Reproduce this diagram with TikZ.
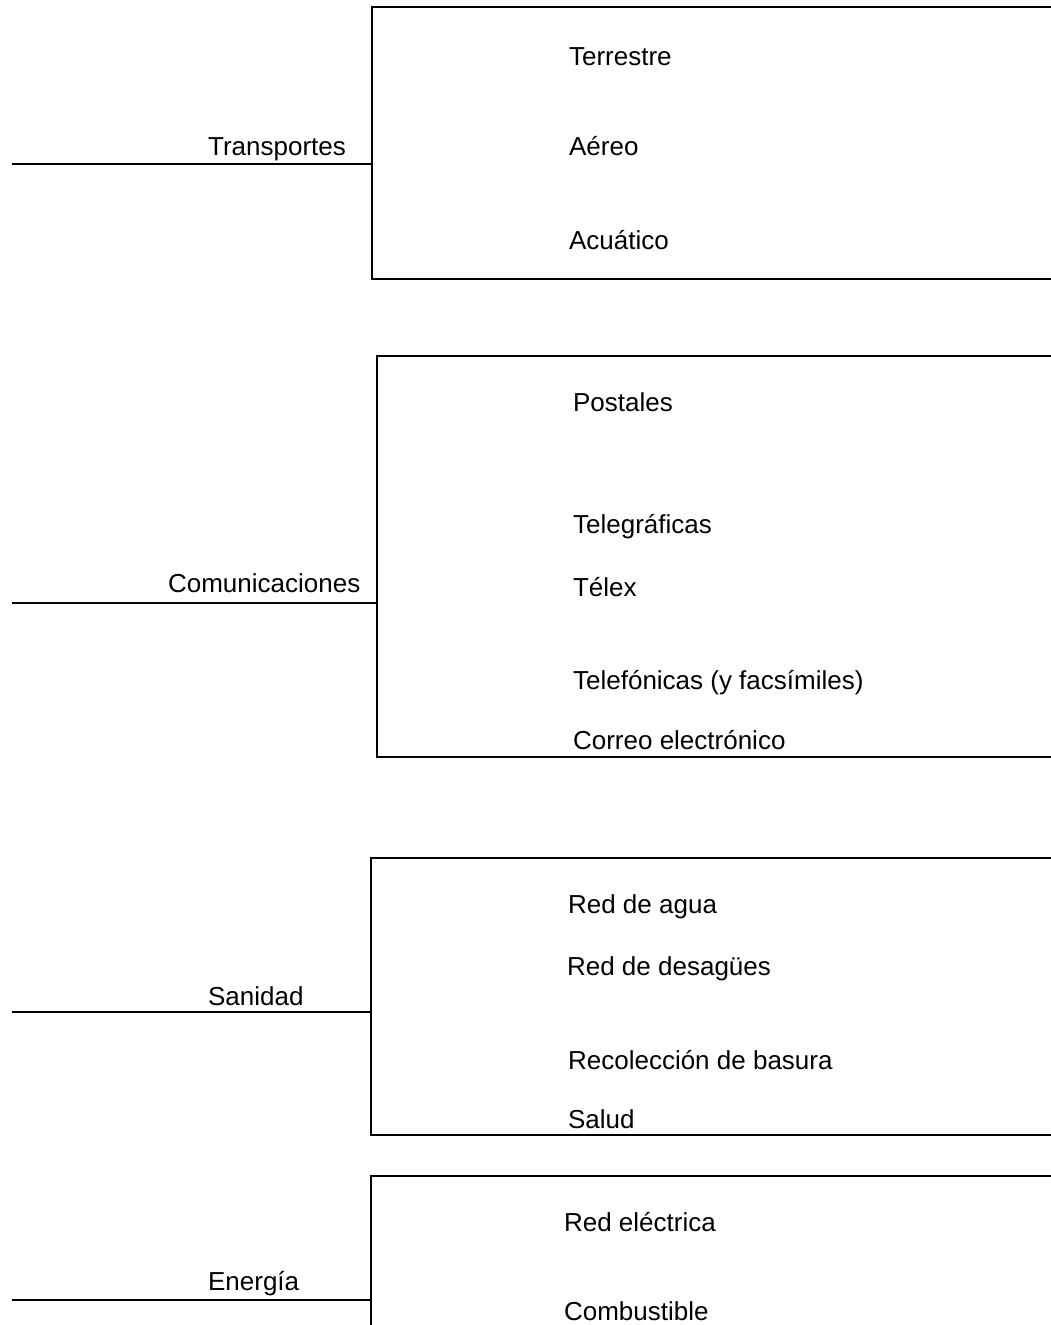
\documentclass[tikz,border=0pt]{standalone}
\usepackage{fontspec}
\setmainfont{Liberation Sans}
\usetikzlibrary{positioning}

\begin{document}
\begin{tikzpicture}[x=1pt, y=-1pt, line width=2.2pt,
    cat/.style={anchor=base west, inner sep=0pt, font=\fontsize{26}{30}\selectfont},
    item/.style={anchor=base west, inner sep=0pt, font=\fontsize{26}{30}\selectfont}]
    \useasboundingbox (0,0) rectangle (1051,1325);

    % Transportes
    \coordinate (trL) at (12,164);
    \coordinate (trB) at (372,164);
    \coordinate (trNW) at (372,7);
    \coordinate (trSW) at (372,279);
    \coordinate (trNE) at (1051,7);
    \coordinate (trSE) at (1051,279);
    \node[cat] (trans) at (207,155) {Transportes};
    \node[item] (terr) at (568,65) {Terrestre};
    \node[item] (aereo) at (568,155) {Aéreo};
    \node[item] (acua) at (568,249) {Acuático};
    \draw (trNE) -- (trNW) -- (trSW) -- (trSE);
    \draw (trL) -- (trB);

    % Comunicaciones
    \coordinate (coL) at (12,603);
    \coordinate (coB) at (377,603);
    \coordinate (coNW) at (377,356);
    \coordinate (coSW) at (377,757);
    \coordinate (coNE) at (1051,356);
    \coordinate (coSE) at (1051,757);
    \node[cat] (comun) at (167,592) {Comunicaciones};
    \node[item] (post) at (572,411) {Postales};
    \node[item] (teleg) at (572,533) {Telegráficas};
    \node[item] (telex) at (572,596) {Télex};
    \node[item] (telef) at (572,689) {Telefónicas (y facsímiles)};
    \node[item] (correo) at (572,749) {Correo electrónico};
    \draw (coNE) -- (coNW) -- (coSW) -- (coSE);
    \draw (coL) -- (coB);

    % Sanidad
    \coordinate (saL) at (12,1012);
    \coordinate (saB) at (371,1012);
    \coordinate (saNW) at (371,858);
    \coordinate (saSW) at (371,1135);
    \coordinate (saNE) at (1051,858);
    \coordinate (saSE) at (1051,1135);
    \node[cat] (sanid) at (207,1005) {Sanidad};
    \node[item] (agua) at (567,913) {Red de agua};
    \node[item] (desag) at (566,975) {Red de desagües};
    \node[item] (basura) at (567,1069) {Recolección de basura};
    \node[item] (salud) at (567,1128) {Salud};
    \draw (saNE) -- (saNW) -- (saSW) -- (saSE);
    \draw (saL) -- (saB);

    % Energia
    \coordinate (enL) at (12,1300);
    \coordinate (enB) at (371,1300);
    \coordinate (enNW) at (371,1176);
    \coordinate (enS) at (371,1325);
    \coordinate (enNE) at (1051,1176);
    \node[cat] (energ) at (207,1290) {Energía};
    \node[item] (elec) at (563,1231) {Red eléctrica};
    \node[item] (comb) at (563,1320) {Combustible};
    \draw (enNE) -- (enNW) -- (enS);
    \draw (enL) -- (enB);
\end{tikzpicture}
\end{document}
